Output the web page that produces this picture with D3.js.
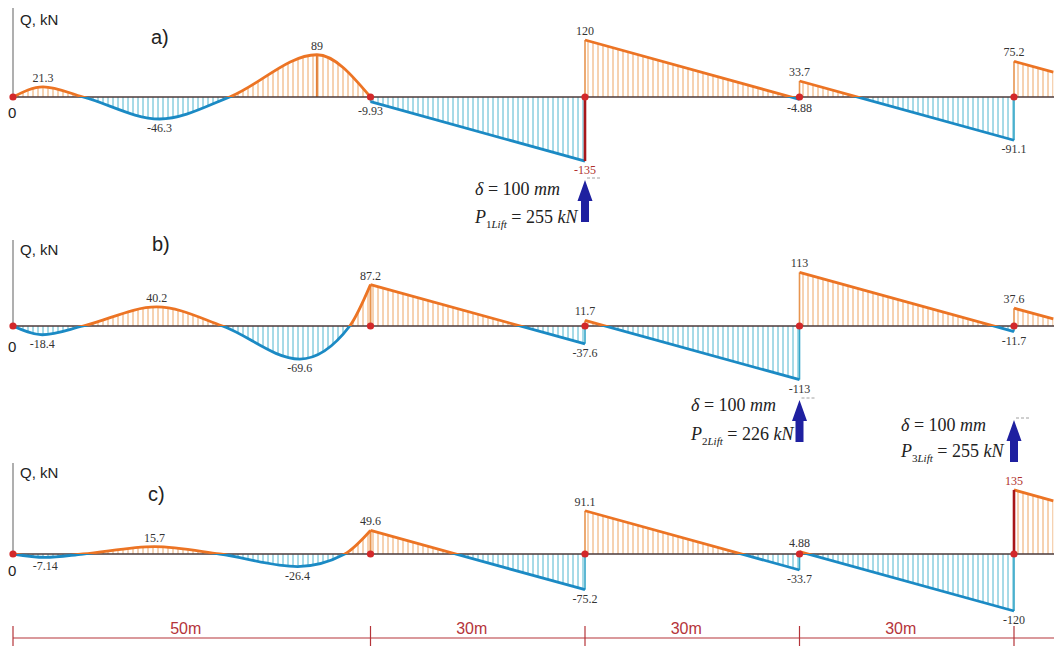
<!DOCTYPE html>
<html>
<head>
<meta charset="utf-8">
<script src="https://cdn.jsdelivr.net/npm/d3@7"></script>
<style>
  body { margin: 0; background: #fff; }
  svg { display: block; }
</style>
</head>
<body>
<div id="chart"></div>
<script>
// Shear force diagrams Q (kN) for three lift positions

var supports = [0, 50, 80, 110, 140];
var spanNames = ["50m", "30m", "30m", "30m"];

// segments between supports: [position m, Q kN]
var shearA = [
  [[0, 0], [4.2, 21.3], [9.8, 0], [20.5, -46.3], [30.3, 0], [42.5, 89], [50, 0]],
  [[50, -9.93], [80, -135]],
  [[80, 120], [110, -4.88]],
  [[110, 33.7], [140, -91.1]],
  [[140, 75.2], [145.5, 52.5]]
];
var shearB = [
  [[0, 0], [4.1, -18.4], [9.8, 0], [20.1, 40.2], [29.3, 0], [40.1, -69.6], [47.1, 0], [50, 87.2]],
  [[50, 87.2], [80, -37.6]],
  [[80, 11.7], [110, -113]],
  [[110, 113], [140, -11.7]],
  [[140, 37.6], [145.5, 14.8]]
];
var shearC = [
  [[0, 0], [4.5, -7.14], [9.8, 0], [19.8, 15.7], [28.9, 0], [39.8, -26.4], [46.4, 0], [50, 49.6]],
  [[50, 49.6], [80, -75.2]],
  [[80, 91.1], [110, -33.7]],
  [[110, 4.88], [140, -120]],
  [[140, 135], [145.5, 112]]
];

// value labels [position m, Q kN]
var labelsA = [[4.2, 21.3], [20.5, -46.3], [42.5, 89], [50, -9.93], [80, 120], [80, -135],
               [110, 33.7], [110, -4.88], [140, -91.1], [140, 75.2]];
var labelsB = [[4.1, -18.4], [20.1, 40.2], [40.1, -69.6], [50, 87.2], [80, 11.7], [80, -37.6],
               [110, 113], [110, -113], [140, 37.6], [140, -11.7]];
var labelsC = [[4.5, -7.14], [19.8, 15.7], [39.8, -26.4], [50, 49.6], [80, 91.1], [80, -75.2],
               [110, 4.88], [110, -33.7], [140, -120], [140, 135]];

// lift forces: [support m, index, P kN]
var lifts = [[80, "1", 255], [110, "2", 226], [140, "3", 255]];

var W = 1054, H = 646;
var orange = "#ec7424", orangeHatch = "#eda565";
var blue = "#1b8ac4", blueHatch = "#4fb6cf";
var darkRed = "#a8161a";

var x = d3.scaleLinear().domain([0, 140]).range([13, 1014]);

var panels = [
  { name: "a)", shear: shearA, labels: labelsA, base: 97, axisTop: 8, qY: 25, nameX: 151, nameY: 44, zeroY: 118,
    red: [[80, -135]], ordinate: [[42.5, 89]] },
  { name: "b)", shear: shearB, labels: labelsB, base: 326, axisTop: 240, qY: 255, nameX: 152, nameY: 251, zeroY: 352,
    red: [], ordinate: [] },
  { name: "c)", shear: shearC, labels: labelsC, base: 554, axisTop: 463, qY: 478, nameX: 148, nameY: 501, zeroY: 576,
    red: [[140, 135]], ordinate: [] }
];

var liftLayout = [
  { tx: 475, ty: 195, py: 223, tip: 180 },
  { tx: 691, ty: 411, py: 440, tip: 400 },
  { tx: 901, ty: 431, py: 457, tip: 420 }
];

var svg = d3.select("#chart").append("svg")
  .attr("width", W).attr("height", H)
  .attr("viewBox", "0 0 " + W + " " + H);

var defs = svg.append("defs");

panels.forEach(function(p, pi) {
  var y = d3.scaleLinear().domain([-135, 135]).range([p.base + 64.1, p.base - 64.1]);

  var area = d3.area()
    .x(function(d) { return x(d[0]); })
    .y0(p.base)
    .y1(function(d) { return y(d[1]); })
    .curve(d3.curveMonotoneX);
  var line = d3.line()
    .x(function(d) { return x(d[0]); })
    .y(function(d) { return y(d[1]); })
    .curve(d3.curveMonotoneX);

  // clip paths: area of diagram, half planes above / below axis
  var clip = defs.append("clipPath").attr("id", "area" + pi);
  clip.selectAll("path").data(p.shear).enter().append("path").attr("d", area);
  defs.append("clipPath").attr("id", "up" + pi)
    .append("rect").attr("x", 0).attr("y", p.base - 90).attr("width", W).attr("height", 90);
  defs.append("clipPath").attr("id", "down" + pi)
    .append("rect").attr("x", 0).attr("y", p.base).attr("width", W).attr("height", 90);

  var g = svg.append("g");

  // Q axis
  g.append("line")
    .attr("x1", x(0)).attr("x2", x(0))
    .attr("y1", p.axisTop).attr("y2", p.base)
    .attr("stroke", "#7a7a7a").attr("stroke-width", 1.2);

  g.append("text")
    .attr("x", 20).attr("y", p.qY)
    .attr("font-family", "Liberation Sans, Arial, sans-serif")
    .attr("font-size", 15).attr("fill", "#222")
    .text("Q, kN");
  g.append("text")
    .attr("x", p.nameX).attr("y", p.nameY)
    .attr("font-family", "Liberation Sans, Arial, sans-serif")
    .attr("font-size", 20).attr("fill", "#222")
    .text(p.name);
  g.append("text")
    .attr("x", 8).attr("y", p.zeroY)
    .attr("font-family", "Liberation Sans, Arial, sans-serif")
    .attr("font-size", 15).attr("fill", "#222")
    .text("0");

  // hatching
  var hx = d3.range(x(0), W, 5);
  var hatch = g.append("g").attr("clip-path", "url(#area" + pi + ")");
  hatch.selectAll("line.pos").data(hx).enter().append("line")
    .attr("class", "pos")
    .attr("x1", function(d) { return d; }).attr("x2", function(d) { return d; })
    .attr("y1", p.base).attr("y2", p.base - 90)
    .attr("stroke", orangeHatch).attr("stroke-width", 1);
  hatch.selectAll("line.neg").data(hx).enter().append("line")
    .attr("class", "neg")
    .attr("x1", function(d) { return d; }).attr("x2", function(d) { return d; })
    .attr("y1", p.base).attr("y2", p.base + 90)
    .attr("stroke", blueHatch).attr("stroke-width", 1);

  // vertical edges at segment ends
  var edges = [];
  p.shear.forEach(function(seg) {
    [seg[0], seg[seg.length - 1]].forEach(function(d) {
      if (d[1] !== 0 && d[0] <= 140) edges.push(d);
    });
  });
  g.selectAll("line.edge").data(edges).enter().append("line")
    .attr("class", "edge")
    .attr("x1", function(d) { return x(d[0]); }).attr("x2", function(d) { return x(d[0]); })
    .attr("y1", p.base).attr("y2", function(d) { return y(d[1]); })
    .attr("stroke", function(d) { return d[1] > 0 ? "#e8954f" : "#35a6c8"; })
    .attr("stroke-width", 1.6);

  g.selectAll("line.ord").data(p.ordinate).enter().append("line")
    .attr("class", "ord")
    .attr("x1", function(d) { return x(d[0]); }).attr("x2", function(d) { return x(d[0]); })
    .attr("y1", p.base).attr("y2", function(d) { return y(d[1]); })
    .attr("stroke", "#e2803a").attr("stroke-width", 2);

  // axis line
  g.append("line")
    .attr("x1", x(0)).attr("x2", W)
    .attr("y1", p.base).attr("y2", p.base)
    .attr("stroke", "#4b3a3a").attr("stroke-width", 1.3);

  // diagram outline, orange above axis, blue below
  g.append("g").attr("clip-path", "url(#up" + pi + ")")
    .selectAll("path").data(p.shear).enter().append("path")
    .attr("d", line).attr("fill", "none")
    .attr("stroke", orange).attr("stroke-width", 2.8);
  g.append("g").attr("clip-path", "url(#down" + pi + ")")
    .selectAll("path").data(p.shear).enter().append("path")
    .attr("d", line).attr("fill", "none")
    .attr("stroke", blue).attr("stroke-width", 2.8);

  // jump at lifted support
  g.selectAll("line.red").data(p.red).enter().append("line")
    .attr("class", "red")
    .attr("x1", function(d) { return x(d[0]); }).attr("x2", function(d) { return x(d[0]); })
    .attr("y1", p.base).attr("y2", function(d) { return y(d[1]); })
    .attr("stroke", darkRed).attr("stroke-width", 2.6);

  // supports
  g.selectAll("circle").data(supports).enter().append("circle")
    .attr("cx", function(d) { return x(d); }).attr("cy", p.base)
    .attr("r", 3.6).attr("fill", "#d3282a");

  // value labels
  var redKeys = p.red.map(function(d) { return d.join(","); });
  g.selectAll("text.val").data(p.labels).enter().append("text")
    .attr("class", "val")
    .attr("x", function(d) { return x(d[0]); })
    .attr("y", function(d) { return d[1] > 0 ? y(d[1]) - 5 : y(d[1]) + 13; })
    .attr("text-anchor", "middle")
    .attr("font-family", "Liberation Serif, Times New Roman, serif")
    .attr("font-size", 12)
    .attr("fill", function(d) { return redKeys.indexOf(d.join(",")) >= 0 ? "#b0302c" : "#333"; })
    .text(function(d) { return String(d[1]); });
});

// lift arrows and captions
lifts.forEach(function(l, i) {
  var L = liftLayout[i];
  var cx = x(l[0]), t = L.tip;
  svg.append("path")
    .attr("d", "M" + cx + "," + t + "L" + (cx + 7.5) + "," + (t + 21) + "L" + (cx + 4) + "," + (t + 21) +
      "L" + (cx + 4) + "," + (t + 42) + "L" + (cx - 4) + "," + (t + 42) + "L" + (cx - 4) + "," + (t + 21) +
      "L" + (cx - 7.5) + "," + (t + 21) + "Z")
    .attr("fill", "#1f20a0");
  svg.append("line")
    .attr("x1", cx + 2).attr("x2", cx + 15)
    .attr("y1", t - 2).attr("y2", t - 2)
    .attr("stroke", "#888").attr("stroke-width", 0.8)
    .attr("stroke-dasharray", "3,2");

  var d1 = svg.append("text")
    .attr("x", L.tx).attr("y", L.ty)
    .attr("font-family", "Liberation Serif, Times New Roman, serif")
    .attr("font-size", 18).attr("fill", "#222");
  d1.append("tspan").attr("font-style", "italic").text("δ");
  d1.append("tspan").text(" = 100 ");
  d1.append("tspan").attr("font-style", "italic").text("mm");

  var d2 = svg.append("text")
    .attr("x", L.tx).attr("y", L.py)
    .attr("font-family", "Liberation Serif, Times New Roman, serif")
    .attr("font-size", 18).attr("fill", "#222");
  d2.append("tspan").attr("font-style", "italic").text("P");
  d2.append("tspan").attr("font-size", 11).attr("dy", 5).text(l[1]);
  d2.append("tspan").attr("font-size", 11).attr("font-style", "italic").text("Lift");
  d2.append("tspan").attr("dy", -5).text(" = " + l[2] + " ");
  d2.append("tspan").attr("font-style", "italic").text("kN");
});

// span dimension line
var dimY = 638, dimColor = "#b5343a";
var dim = svg.append("g");
dim.append("line")
  .attr("x1", x(0)).attr("x2", W)
  .attr("y1", dimY).attr("y2", dimY)
  .attr("stroke", dimColor).attr("stroke-width", 1.2);
dim.selectAll("line.tick").data(supports).enter().append("line")
  .attr("class", "tick")
  .attr("x1", function(d) { return x(d); }).attr("x2", function(d) { return x(d); })
  .attr("y1", 626).attr("y2", H)
  .attr("stroke", dimColor).attr("stroke-width", 1.2);
dim.selectAll("text").data(spanNames).enter().append("text")
  .attr("x", function(d, i) { return (x(supports[i]) + x(supports[i + 1])) / 2 - 6; })
  .attr("y", 634)
  .attr("text-anchor", "middle")
  .attr("font-family", "Liberation Sans, Arial, sans-serif")
  .attr("font-size", 16).attr("fill", dimColor)
  .text(function(d) { return d; });
</script>
</body>
</html>
